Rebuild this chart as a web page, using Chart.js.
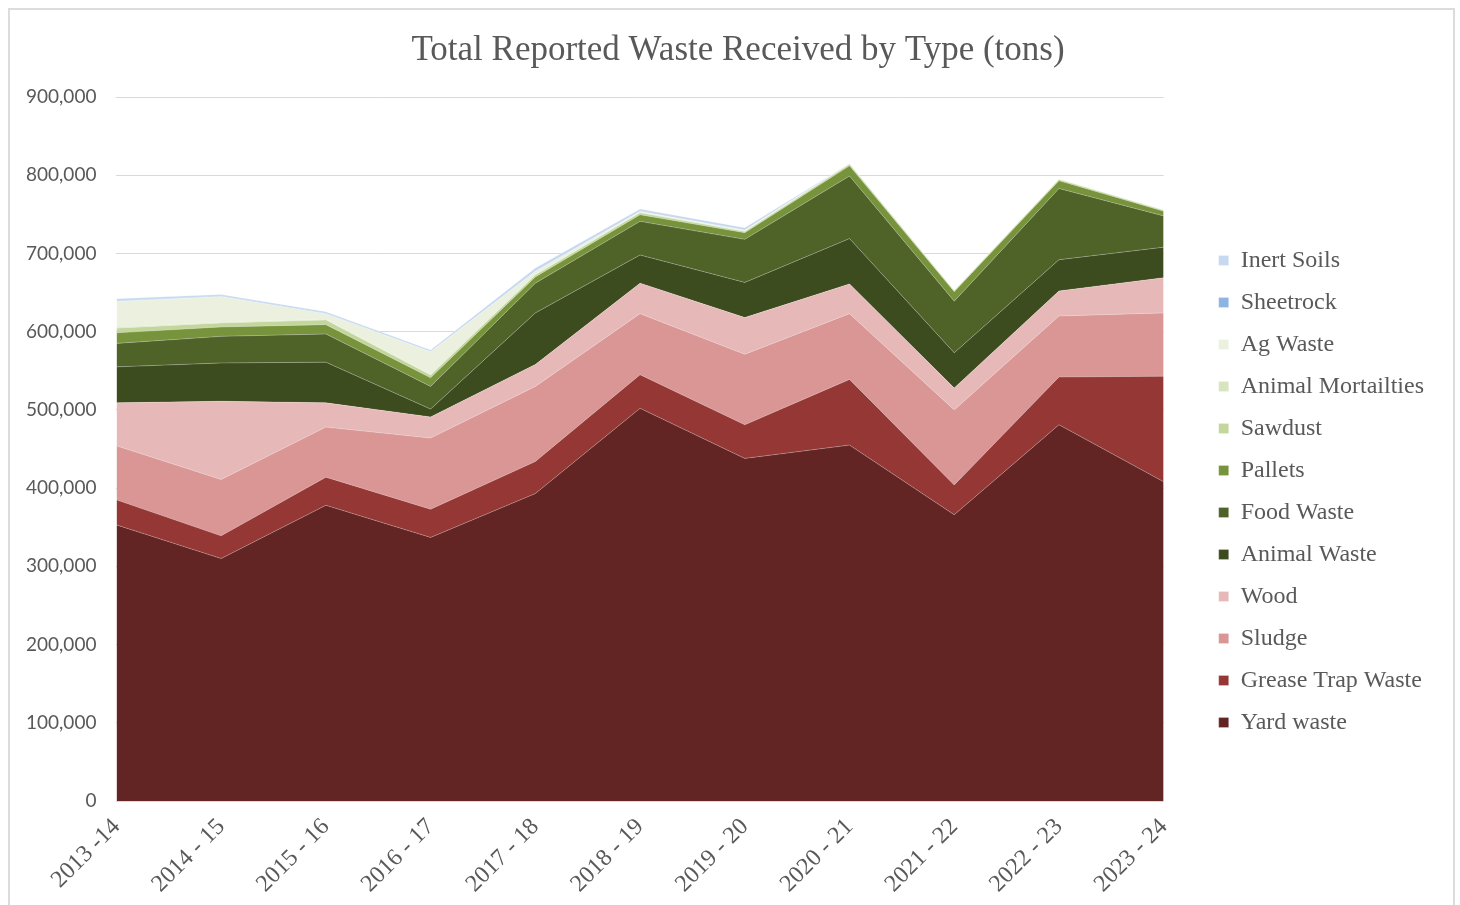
<!DOCTYPE html>
<html>
<head>
<meta charset="utf-8">
<title>Total Reported Waste Received by Type</title>
<script src="https://cdn.jsdelivr.net/npm/chart.js@4.4.0/dist/chart.umd.min.js"></script>
<style>
  html, body { margin: 0; padding: 0; background: #fff; }
  #frame { position: absolute; left: 8px; top: 8px; width: 1447px; height: 920px; border: 2px solid #dcdcdc; box-sizing: border-box; }
  #wrap { position: absolute; left: 0; top: 0; width: 1460px; height: 905px; }
</style>
</head>
<body>
<div id="frame"></div>
<div id="wrap"><canvas id="wasteChart"></canvas></div>
<script>
const years = ["2013 -14", "2014 - 15", "2015 - 16", "2016 - 17", "2017 - 18", "2018 - 19",
  "2019 - 20", "2020 - 21", "2021 - 22", "2022 - 23", "2023 - 24"];

// tons per year, bottom layer first
const yardWaste = [353000, 310000, 378000, 337000, 393000, 502000, 438000, 455000, 366000, 481000, 408000];
const greaseTrap = [32000, 29000, 36000, 36000, 41000, 43000, 43000, 84000, 38000, 61000, 135000];
const sludge = [69000, 72000, 64000, 91000, 96000, 78000, 90000, 84000, 96000, 78000, 81000];
const wood = [55000, 100000, 31000, 27000, 28000, 39000, 47000, 38000, 28000, 32000, 45000];
const animalWaste = [46000, 49000, 52000, 10000, 66000, 36000, 45000, 58000, 45000, 40000, 39000];
const foodWaste = [30000, 34000, 36000, 29000, 38000, 43000, 55000, 80000, 66000, 91000, 40000];
const pallets = [13500, 12000, 12000, 11000, 8000, 8500, 8500, 13000, 12000, 10000, 6000];
const sawdust = [6000, 5000, 6000, 3500, 2500, 2500, 1500, 2000, 1200, 1500, 1200];
const animalMortalities = [1000, 1000, 1000, 700, 500, 500, 500, 500, 300, 500, 300];
const agWaste = [33000, 33000, 7000, 29000, 4000, 1000, 1000, 0, 0, 0, 0];
const sheetrock = [500, 500, 500, 300, 300, 300, 300, 0, 0, 0, 0];
const inertSoils = [3000, 2000, 2000, 2000, 4000, 3000, 3000, 500, 0, 0, 0];

const series = [
  { label: "Yard waste", data: yardWaste, color: "#632523" },
  { label: "Grease Trap Waste", data: greaseTrap, color: "#953735" },
  { label: "Sludge", data: sludge, color: "#D99694" },
  { label: "Wood", data: wood, color: "#E6B9B8" },
  { label: "Animal Waste", data: animalWaste, color: "#3D4C1F" },
  { label: "Food Waste", data: foodWaste, color: "#4F6228" },
  { label: "Pallets", data: pallets, color: "#77933C" },
  { label: "Sawdust", data: sawdust, color: "#C3D69B" },
  { label: "Animal Mortailties", data: animalMortalities, color: "#D7E4BD" },
  { label: "Ag Waste", data: agWaste, color: "#EBF1DE" },
  { label: "Sheetrock", data: sheetrock, color: "#8EB4E3" },
  { label: "Inert Soils", data: inertSoils, color: "#C6D9F1" },
];

const textColor = "#595959";
const serif = "'Liberation Serif', 'Times New Roman', serif";

// nudge the title a bit right, it sits over the plot rather than the whole canvas
const titleShift = {
  id: "titleShift",
  afterLayout(chart) {
    chart.titleBlock.left += 18;
    chart.titleBlock.right += 18;
  },
};

new Chart(document.getElementById("wasteChart"), {
  type: "line",
  data: {
    labels: years,
    datasets: series.map((s, i) => ({
      label: s.label,
      data: s.data,
      backgroundColor: s.color,
      borderColor: "rgba(255,255,255,0.25)",
      borderWidth: 1,
      fill: i === 0 ? "origin" : "-1",
      pointRadius: 0,
      tension: 0,
    })),
  },
  plugins: [titleShift],
  options: {
    responsive: true,
    maintainAspectRatio: false,
    animation: false,
    layout: { padding: { left: 6, right: 26, top: 0, bottom: 0 } },
    plugins: {
      title: {
        display: true,
        text: "Total Reported Waste Received by Type (tons)",
        color: textColor,
        font: { family: serif, size: 35, weight: "normal" },
        padding: { top: 30, bottom: 25 },
      },
      legend: {
        position: "right",
        reverse: true,
        // empty title only pushes the entries down
        title: { display: true, text: " ", font: { size: 10 }, padding: { top: 66, bottom: 0 } },
        labels: {
          boxWidth: 10,
          boxHeight: 10,
          padding: 18,
          color: textColor,
          font: { family: serif, size: 24 },
        },
      },
      tooltip: { enabled: false },
    },
    scales: {
      x: {
        stacked: true,
        offset: false,
        grid: { display: false },
        border: { display: false },
        ticks: {
          minRotation: 45,
          maxRotation: 45,
          color: textColor,
          font: { family: serif, size: 24 },
          padding: 4,
        },
        afterFit: s => { s.height = 104; },
      },
      y: {
        stacked: true,
        min: 0,
        max: 900000,
        grid: { color: "#d9d9d9", drawTicks: false },
        border: { display: false },
        ticks: {
          stepSize: 100000,
          color: textColor,
          font: { family: "Lato, 'Open Sans', sans-serif", size: 19 },
          padding: 20,
          callback: v => v.toLocaleString("en-US"),
        },
      },
      // blank axis: space between plot and legend
      gap: {
        type: "linear",
        position: "right",
        grid: { display: false },
        border: { display: false },
        ticks: { display: false },
        afterFit: s => { s.width = 37; },
      },
    },
  },
});
</script>
</body>
</html>
